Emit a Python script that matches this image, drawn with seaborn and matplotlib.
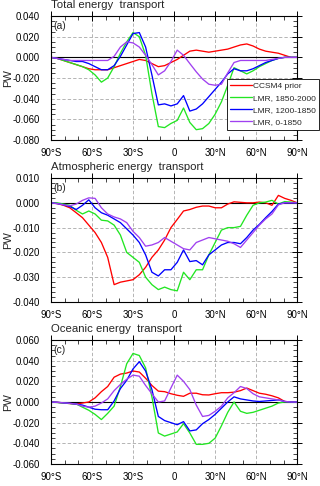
"""Meridional energy transport: CCSM4 prior vs LMR reconstructions."""

import matplotlib

matplotlib.use("Agg")
import matplotlib.pyplot as plt
import pandas as pd
import seaborn as sns
from matplotlib.ticker import FormatStrFormatter, MultipleLocator

LATS = [-90.0, -85.4, -80.8, -76.2, -71.5, -66.9, -62.3, -57.7, -53.1, -48.5,
        -43.8, -39.2, -34.6, -30.0, -25.4, -20.8, -16.2, -11.5, -6.9, -2.3,
        2.3, 6.9, 11.5, 16.2, 20.8, 25.4, 30.0, 34.6, 39.2, 43.8,
        48.5, 53.1, 57.7, 62.3, 66.9, 71.5, 76.2, 80.8, 85.4, 90.0]

SERIES = ["CCSM4 prior", "LMR, 1850-2000", "LMR, 1200-1850", "LMR, 0-1850"]
COLORS = ["#ff0000", "#22e622", "#0000ff", "#a040f0"]

XTICKS = [-90, -60, -30, 0, 30, 60, 90]
XTICK_LABELS = ["90°S", "60°S", "30°S", "0", "30°N", "60°N", "90°N"]

# total energy transport (PW)
TOTAL_CCSM4 = [0, -0.001, -0.003, -0.005, -0.007, -0.009, -0.011, -0.012, -0.012, -0.012,
               -0.010, -0.008, -0.006, -0.004, -0.002, -0.003, -0.006, -0.009, -0.008, -0.005,
               -0.002, 0.002, 0.006, 0.007, 0.006, 0.005, 0.006, 0.007, 0.008, 0.010,
               0.012, 0.013, 0.011, 0.008, 0.006, 0.005, 0.004, 0.002, 0.000, 0.000]
TOTAL_1850_2000 = [0, -0.001, -0.003, -0.005, -0.007, -0.009, -0.012, -0.017, -0.024, -0.020,
                   -0.009, 0.004, 0.015, 0.024, 0.020, 0.002, -0.035, -0.067, -0.068, -0.064,
                   -0.061, -0.049, -0.063, -0.070, -0.069, -0.064, -0.055, -0.043, -0.027, -0.010,
                   -0.013, -0.016, -0.013, -0.009, -0.006, -0.003, -0.001, 0.000, 0.000, 0.000]
TOTAL_1200_1850 = [0, -0.001, -0.002, -0.003, -0.004, -0.004, -0.006, -0.009, -0.012, -0.012,
                   -0.008, 0.001, 0.012, 0.023, 0.024, 0.010, -0.017, -0.046, -0.045, -0.047,
                   -0.045, -0.037, -0.052, -0.050, -0.045, -0.038, -0.031, -0.024, -0.016, -0.011,
                   -0.013, -0.013, -0.011, -0.008, -0.005, -0.003, -0.001, 0.000, 0.000, 0.000]
TOTAL_0_1850 = [0, -0.001, -0.002, -0.003, -0.003, -0.003, -0.003, -0.003, -0.003, -0.003,
                0.001, 0.010, 0.015, 0.014, 0.010, 0.002, -0.007, -0.017, -0.013, -0.004,
                0.007, 0.002, -0.006, -0.014, -0.021, -0.026, -0.027, -0.026, -0.015, -0.005,
                -0.003, -0.003, -0.003, -0.003, -0.003, -0.002, -0.001, 0.000, 0.000, 0.000]

# atmospheric energy transport (PW)
ATMOS_CCSM4 = [0, -0.0003, -0.001, -0.002, -0.004, -0.006, -0.009, -0.012, -0.016, -0.022,
               -0.033, -0.032, -0.0315, -0.031, -0.029, -0.026, -0.022, -0.019, -0.015, -0.010,
               -0.0067, -0.0033, -0.0027, -0.0018, -0.0013, -0.0013, -0.002, -0.002, -0.0005, 0.0004,
               0.0002, 0.0, 0.0, 0.0003, 0.0, -0.001, 0.003, 0.0018, 0.001, 0.0]
ATMOS_1850_2000 = [0, 0.0, -0.0005, -0.001, -0.003, -0.0045, -0.0033, -0.0045, -0.007, -0.0073,
                   -0.009, -0.013, -0.020, -0.022, -0.024, -0.030, -0.033, -0.035, -0.034, -0.035,
                   -0.0355, -0.028, -0.031, -0.027, -0.027, -0.021, -0.016, -0.011, -0.010, -0.010,
                   -0.0095, -0.005, -0.001, 0.0, 0.0003, 0.001, -0.0005, 0.0005, 0.0003, 0.0]
ATMOS_1200_1850 = [0, -0.0003, -0.0008, -0.0015, -0.0027, -0.001, 0.0012, -0.002, -0.004, -0.005,
                   -0.0065, -0.008, -0.0105, -0.013, -0.016, -0.021, -0.028, -0.0295, -0.027, -0.027,
                   -0.024, -0.019, -0.0237, -0.0233, -0.025, -0.021, -0.019, -0.017, -0.016, -0.016,
                   -0.0165, -0.014, -0.011, -0.0087, -0.006, -0.0035, -0.0005, 0.0, 0.0, 0.0]
ATMOS_0_1850 = [0, -0.0003, -0.0008, -0.0012, -0.0005, 0.001, 0.002, 0.0018, -0.002, -0.0045,
                -0.0057, -0.0065, -0.008, -0.0115, -0.014, -0.0175, -0.017, -0.016, -0.014, -0.0155,
                -0.017, -0.0185, -0.019, -0.016, -0.015, -0.014, -0.0145, -0.015, -0.0155, -0.0165,
                -0.018, -0.015, -0.012, -0.009, -0.0065, -0.0045, -0.0008, 0.0, 0.0, 0.0]

# oceanic energy transport (PW)
OCEAN_CCSM4 = [0, -0.0003, -0.001, -0.0015, -0.002, -0.001, 0.0, 0.004, 0.010, 0.015,
               0.024, 0.027, 0.028, 0.030, 0.029, 0.023, 0.016, 0.0105, 0.010, 0.008,
               0.0065, 0.0055, 0.0085, 0.0085, 0.007, 0.0068, 0.008, 0.009, 0.009, 0.0095,
               0.011, 0.0135, 0.011, 0.0085, 0.0075, 0.006, 0.004, 0.0005, 0.0, 0.0]
OCEAN_1850_2000 = [0, -0.0005, -0.001, -0.0015, -0.002, -0.005, -0.008, -0.012, -0.017, -0.011,
                   -0.004, 0.015, 0.037, 0.047, 0.045, 0.033, 0.005, -0.030, -0.033, -0.031,
                   -0.029, -0.021, -0.030, -0.041, -0.041, -0.040, -0.035, -0.023, -0.010, 0.000,
                   -0.009, -0.011, -0.010, -0.008, -0.006, -0.004, -0.001, 0.0, 0.0, 0.0]
OCEAN_1200_1850 = [0, -0.0003, -0.0008, -0.0013, -0.002, -0.003, -0.005, -0.007, -0.0075, -0.0075,
                   0.001, 0.013, 0.021, 0.032, 0.039, 0.030, 0.012, -0.014, -0.018, -0.020,
                   -0.022, -0.019, -0.028, -0.027, -0.021, -0.017, -0.012, -0.006, 0.000, 0.005,
                   0.003, 0.002, 0.001, 0.0005, 0.001, 0.0015, 0.002, 0.0005, 0.0, 0.0]
OCEAN_0_1850 = [0, -0.0003, -0.0008, -0.0013, -0.002, -0.004, -0.005, -0.004, -0.001, 0.003,
                0.011, 0.017, 0.022, 0.026, 0.025, 0.016, 0.008, 0.000, 0.001, 0.0136,
                0.026, 0.020, 0.012, -0.003, -0.014, -0.013, -0.009, -0.004, 0.004, 0.009,
                0.015, 0.013, 0.008, 0.005, 0.004, 0.003, 0.002, 0.0005, 0.0, 0.0]


def long_frame(columns: list[list[float]]) -> pd.DataFrame:
    """Stack the four series of one panel into a long table for seaborn."""
    parts = [pd.DataFrame({"lat": LATS, "pw": values, "series": name})
             for name, values in zip(SERIES, columns)]
    return pd.concat(parts, ignore_index=True)


PANELS = [
    ("Total energy  transport", "(a)",
     [TOTAL_CCSM4, TOTAL_1850_2000, TOTAL_1200_1850, TOTAL_0_1850],
     (-0.08, 0.04), 0.02, 0.005),
    ("Atmospheric energy  transport", "(b)",
     [ATMOS_CCSM4, ATMOS_1850_2000, ATMOS_1200_1850, ATMOS_0_1850],
     (-0.04, 0.01), 0.01, 0.002),
    ("Oceanic energy  transport", "(c)",
     [OCEAN_CCSM4, OCEAN_1850_2000, OCEAN_1200_1850, OCEAN_0_1850],
     (-0.06, 0.06), 0.02, 0.005),
]


def main() -> None:
    sns.set_style("white")
    plt.rcParams["font.family"] = ["Liberation Sans", "DejaVu Sans"]
    plt.rcParams["axes.unicode_minus"] = False

    fig = plt.figure(figsize=(3.2, 4.86), dpi=100)
    bottoms = [0.7119, 0.3786, 0.0453]
    palette = dict(zip(SERIES, COLORS))

    for i, (title, letter, columns, ylim, major, minor) in enumerate(PANELS):
        ax = fig.add_axes([0.159, bottoms[i], 0.770, 0.2551])
        frame = long_frame(columns)

        ax.axhline(0, color="black", linewidth=0.8, zorder=1.5)
        sns.lineplot(data=frame, x="lat", y="pw", hue="series", hue_order=SERIES,
                     palette=palette, linewidth=0.95, ax=ax, legend=(i == 0),
                     zorder=2)

        ax.set_xlim(-90, 90)
        ax.set_ylim(*ylim)
        ax.set_xticks(XTICKS)
        ax.set_xticklabels(XTICK_LABELS)
        ax.xaxis.set_minor_locator(MultipleLocator(10))
        ax.yaxis.set_major_locator(MultipleLocator(major))
        ax.yaxis.set_minor_locator(MultipleLocator(minor))
        ax.yaxis.set_major_formatter(FormatStrFormatter("%.3f"))

        ax.grid(True, which="major", color="#a8a8a8", linestyle=(0, (4, 2.5)),
                linewidth=0.6)
        ax.set_axisbelow(True)
        for spine in ax.spines.values():
            spine.set_color("black")
            spine.set_linewidth(0.8)

        ax.tick_params(which="major", direction="inout", length=7, width=0.7,
                       top=True, right=True, labelsize=6.9, colors="black")
        ax.tick_params(axis="x", which="major", pad=2.5)
        ax.tick_params(axis="y", which="major", pad=4.5)
        ax.tick_params(which="minor", direction="in", length=2.6, width=0.6,
                       top=True, right=True, bottom=True, left=True)

        ax.set_xlabel("")
        ax.set_ylabel("PW", fontsize=8)
        ax.yaxis.set_label_coords(-0.155, 0.5)

        ax.annotate(title, xy=(0, 1), xycoords="axes fraction", xytext=(0, 5.8),
                    textcoords="offset points", ha="left", va="baseline",
                    fontsize=8.2)
        ax.annotate(letter, xy=(0, 1), xycoords="axes fraction", xytext=(2, -7),
                    textcoords="offset points", ha="left", va="center",
                    fontsize=7.5)

        if i == 0:
            handles, labels = ax.get_legend_handles_labels()
            leg = ax.legend(handles, labels, loc="upper left",
                            bbox_to_anchor=(0.714, 0.492), borderaxespad=0,
                            fontsize=6.0, frameon=True, fancybox=False,
                            framealpha=1, edgecolor="black", borderpad=0.4,
                            labelspacing=0.5, handlelength=2.6,
                            handletextpad=0.15)
            leg.get_frame().set_linewidth(0.6)
            leg.set_zorder(10)

    fig.savefig("out.png", dpi=100)
    plt.close(fig)


if __name__ == "__main__":
    main()
